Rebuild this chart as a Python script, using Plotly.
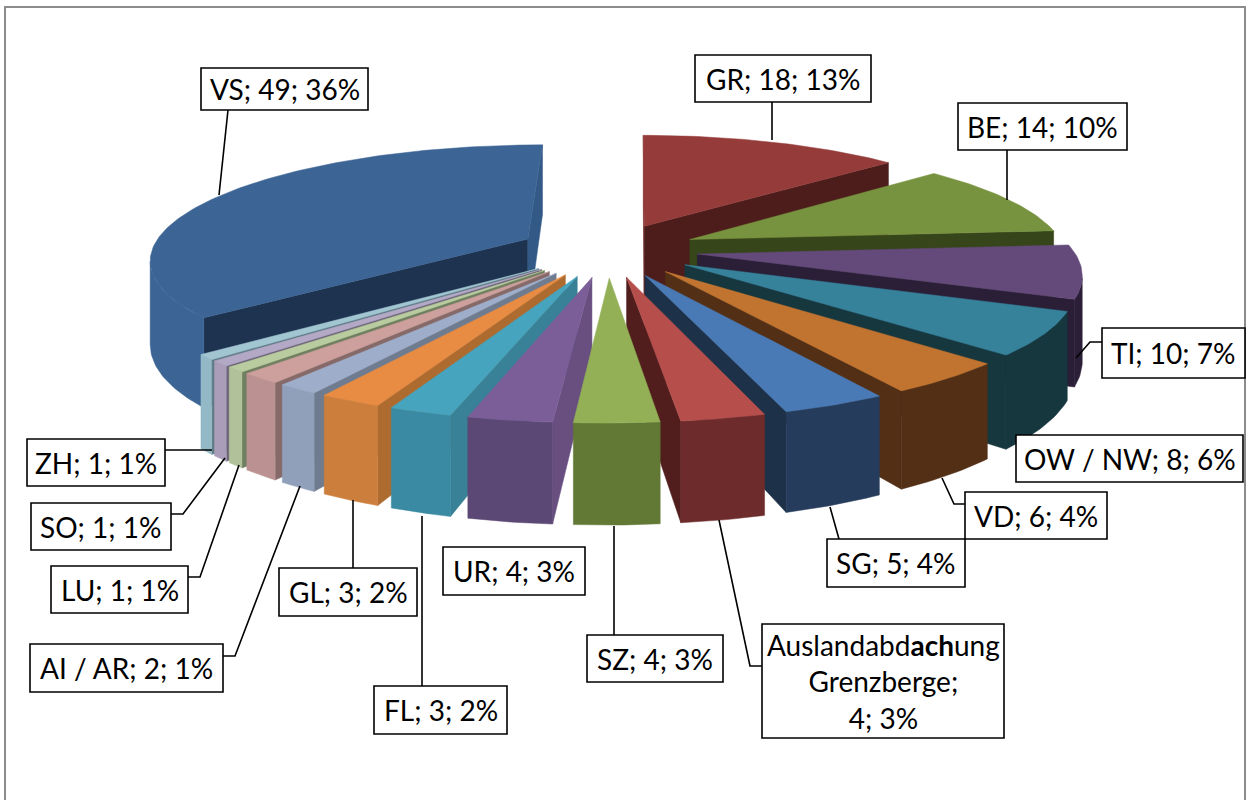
import math
import plotly.graph_objects as go

# ---- data (clockwise from 12 o'clock) ----
names = ["GR", "BE", "TI", "OW / NW", "VD", "SG", "Ausland", "SZ", "UR", "FL", "GL",
         "AI / AR", "", "LU", "SO", "ZH", "VS"]
values = [18, 14, 10, 8, 6, 5, 4, 4, 4, 3, 3, 2, 2, 1, 1, 1, 49]

# ---- styles: top, start wall, end wall, rim ----
colours = [
    ("#953c3a", "#7a2f2d", "#4d1d1c", "#953c3a"),
    ("#78933f", "#5f7632", "#36451a", "#78933f"),
    ("#644a7b", "#503b63", "#2b1f38", "#2b1f38"),
    ("#37829b", "#2c6a7e", "#17373f", "#17373f"),
    ("#c07430", "#9a5c26", "#532f16", "#532f16"),
    ("#4a7ab5", "#3b6391", "#1d3249", "#263c5c"),
    ("#b64f4c", "#93403d", "#511e1d", "#6d2c2b"),
    ("#93b057", "#627935", "#511e1d", "#627935"),
    ("#7b5e98", "#684f80", "#3a2c4a", "#5c4874"),
    ("#46a4be", "#388197", "#1e4c58", "#3a8aa3"),
    ("#e98c43", "#ad6b30", "#6a3c17", "#cc7f3c"),
    ("#9eaeca", "#6f7b8e", "#4a5568", "#90a0ba"),
    ("#cd9f9d", "#856a69", "#5f4a49", "#bb9291"),
    ("#b8cc9f", "#6f7f5f", "#556048", "#b1c29a"),
    ("#b3a8c6", "#6d6478", "#544c5e", "#a99db9"),
    ("#a2c5d2", "#5e7a84", "#465c64", "#93b8c6"),
    ("#3c6494", "#1e3350", "#335a86", "#3c6494"),
]

# ---- view of the pie, in pixels ----
CX, HY, VH, DIST, R, EXPL, THICK, SHEAR = 608, -459, 709, 2375, 376, 90, 82, 0.010
FONT = "Lato"
FS = 28


def project(x, y, z=0.0):
    g = DIST / (DIST + y)
    return CX + x * g + SHEAR * y, HY + (VH + z) * g


total = sum(values)
slices = []
acc = 0
for val, col in zip(values, colours):
    a0 = acc / total * 2 * math.pi
    acc += val
    a1 = acc / total * 2 * math.pi
    mid = (a0 + a1) / 2
    slices.append((a0, a1, EXPL * math.sin(mid), EXPL * math.cos(mid), col))

fig = go.Figure()


def poly(pts, colour):
    xs = [p[0] for p in pts] + [pts[0][0]]
    ys = [p[1] for p in pts] + [pts[0][1]]
    fig.add_trace(go.Scatter(x=xs, y=ys, mode="lines", fill="toself", fillcolor=colour,
                             line=dict(color=colour, width=0.5), hoverinfo="skip",
                             showlegend=False))


for a0, a1, ox, oy, col in sorted(slices, key=lambda s: -s[3]):
    top, wall0, wall1, rim = col
    vx, vy = -ox, -DIST - oy  # camera seen from the slice tip
    n = max(4, int(math.degrees(a1 - a0)))
    angs = [a0 + (a1 - a0) * i / n for i in range(n + 1)]
    arc = [(ox + R * math.sin(t), oy + R * math.cos(t)) for t in angs]

    # radial walls, only when they face the camera
    if vx * (-math.cos(a0)) + vy * math.sin(a0) > 0:
        e = arc[0]
        poly([project(ox, oy), project(*e), project(*e, THICK), project(ox, oy, THICK)], wall0)
    if vx * math.cos(a1) + vy * (-math.sin(a1)) > 0:
        e = arc[-1]
        poly([project(ox, oy), project(*e), project(*e, THICK), project(ox, oy, THICK)], wall1)

    # outer rim
    vis = [i for i, t in enumerate(angs)
           if (-arc[i][0]) * math.sin(t) + (-DIST - arc[i][1]) * math.cos(t) > 0]
    if len(vis) > 1:
        run = [arc[i] for i in vis]
        poly([project(*p) for p in run] + [project(*p, THICK) for p in reversed(run)], rim)

    # top face
    poly([project(ox, oy)] + [project(*p) for p in arc], top)

# ---- labels ----
label_text = {}
for nm, val in zip(names, values):
    if not nm:
        continue
    pct = round(val / total * 100)
    if nm == "Ausland":
        label_text[nm] = f"Auslandabd<b>ach</b>ung<br>Grenzberge;<br>{val}; {pct}%"
    else:
        label_text[nm] = f"{nm}; {val}; {pct}%"

boxes = {
    "VS": (201, 68, 368, 110), "GR": (695, 55, 871, 102), "BE": (958, 103, 1127, 150),
    "TI": (1102, 328, 1245, 378), "OW / NW": (1016, 435, 1243, 482), "VD": (965, 492, 1107, 539),
    "SG": (827, 539, 965, 587), "Ausland": (762, 624, 1004, 738), "SZ": (587, 635, 723, 682),
    "UR": (443, 547, 585, 595), "FL": (374, 686, 507, 734), "GL": (279, 568, 417, 616),
    "AI / AR": (30, 644, 223, 692), "LU": (51, 566, 188, 613), "SO": (31, 503, 171, 550),
    "ZH": (27, 439, 165, 486),
}
leaders = [
    [(228, 110), (219, 195)], [(772, 102), (772, 140)], [(1007, 150), (1007, 200)],
    [(1102, 342), (1090, 342), (1076, 358)], [(965, 504), (954, 504), (942, 478)],
    [(839, 539), (830, 507)], [(762, 666), (750, 666), (719, 520)], [(614, 635), (614, 526)],
    [(422, 686), (422, 516)], [(353, 568), (353, 500)], [(223, 656), (235, 656), (300, 486)],
    [(188, 577), (200, 577), (239, 465)], [(171, 514), (183, 514), (225, 458)],
    [(165, 450), (212, 450)],
]

shapes = []
for pts in leaders:
    d = "M" + " L".join(f"{x},{y}" for x, y in pts)
    shapes.append(dict(type="path", path=d, line=dict(color="#000000", width=1.6), layer="above"))
annotations = []
for nm, (x0, y0, x1, y1) in boxes.items():
    shapes.append(dict(type="rect", x0=x0, y0=y0, x1=x1, y1=y1, fillcolor="#ffffff",
                       line=dict(color="#000000", width=1.6), layer="above"))
    annotations.append(dict(x=(x0 + x1) / 2, y=(y0 + y1) / 2, text=label_text[nm], showarrow=False,
                            xanchor="center", yanchor="middle",
                            font=dict(family=FONT, size=FS, color="#000000")))

# chart frame: open at the bottom
shapes.append(dict(type="path", path="M5,800 L5,7 L1245,7 L1245,800",
                   line=dict(color="#8c8c8c", width=2), layer="below"))

fig.update_layout(
    width=1247, height=800, margin=dict(l=0, r=0, t=0, b=0), autosize=False,
    paper_bgcolor="#ffffff", plot_bgcolor="#ffffff", showlegend=False,
    xaxis=dict(range=[0, 1247], visible=False, fixedrange=True),
    yaxis=dict(range=[800, 0], visible=False, fixedrange=True),
    shapes=shapes, annotations=annotations,
)
fig.write_html("out.html", config=dict(displayModeBar=False),
               post_script="document.body.style.margin='0';document.body.style.overflow='hidden';")
